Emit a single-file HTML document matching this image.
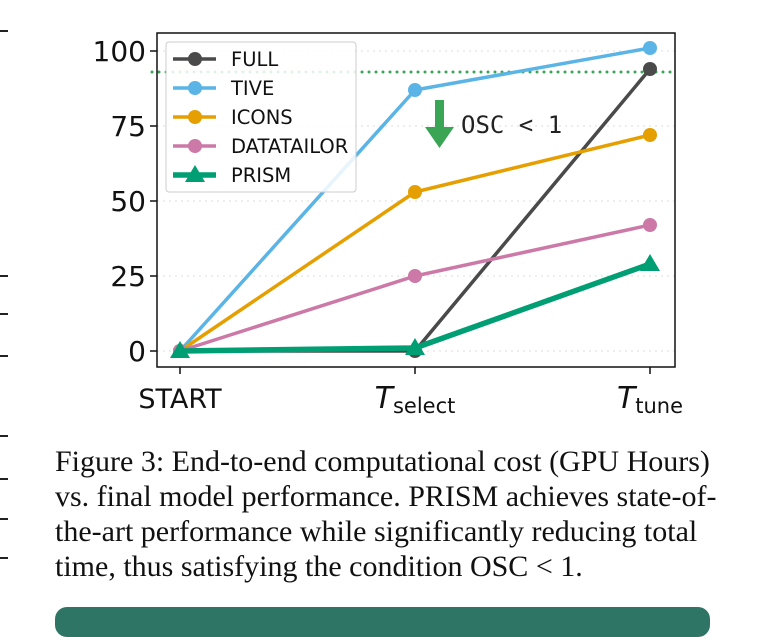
<!DOCTYPE html>
<html><head><meta charset="utf-8"><style>
body{margin:0;width:773px;height:619px;background:#fff;overflow:hidden;position:relative;font-family:"DejaVu Sans",sans-serif}
.cap{position:absolute;left:55px;top:444px;width:700px;font-family:"Liberation Serif",serif;font-size:30px;line-height:35px;color:#111;letter-spacing:0px}
.cap span{display:block;white-space:nowrap}
.box{position:absolute;left:55px;top:607px;width:655px;height:30px;background:#2e7566;border-radius:12px}
.dash{position:absolute;left:0;width:8px;height:2px;background:#222}
</style></head><body>
<div>
<div class="dash" style="top:30px"></div><div class="dash" style="top:275px"></div><div class="dash" style="top:313px"></div><div class="dash" style="top:355px"></div><div class="dash" style="top:435px"></div><div class="dash" style="top:478px"></div><div class="dash" style="top:518px"></div><div class="dash" style="top:557px"></div>
</div>
<svg id="chart" width="773" height="440" style="position:absolute;left:0;top:0" font-family="DejaVu Sans, sans-serif"></svg>
<div class="cap"><span>Figure 3: End-to-end computational cost (GPU Hours)</span><span>vs. final model performance. PRISM achieves state-of-</span><span>the-art performance while significantly reducing total</span><span>time, thus satisfying the condition OSC &lt; 1.</span></div>
<div class="box"></div>
<script>
const categories=["START","T_select","T_tune"];
const yTicks=[0,25,50,75,100];
const full=[0,0,94];
const tive=[0,87,101];
const icons=[0,53,72];
const datatailor=[0,25,42];
const prism=[0,1,29];
const threshold=93;
const NS="http://www.w3.org/2000/svg";
const svg=document.getElementById('chart');
const L=157,R=675,T=33,B=367;
const xs=[180,416,650];
function xScale(i){return xs[0]+(xs[2]-xs[0])*i/(categories.length-1);}
function yScale(v){return 351-v*3;}
function mk(tag,attrs,parent){const e=document.createElementNS(NS,tag);for(const k in attrs)e.setAttribute(k,attrs[k]);(parent||svg).appendChild(e);return e;}
yTicks.forEach(v=>{
 const g=mk('line',{x1:L,x2:R,y1:yScale(v),y2:yScale(v),stroke:'#ddd','stroke-dasharray':'2,4','stroke-width':1});
 
 
 const t=mk('line',{x1:L-7,x2:L,y1:yScale(v),y2:yScale(v),stroke:'#111','stroke-width':1.5});
 
 
 const tx=mk('text',{x:L-11,y:yScale(v)+10,'text-anchor':'end','font-size':28,fill:'#111'});
 tx.textContent=v;
 
 
});
const th=mk('line',{x1:152,x2:R+2,y1:yScale(threshold),y2:yScale(threshold),stroke:'#3aa655','stroke-width':3,'stroke-dasharray':'0,7','stroke-linecap':'round'});


categories.forEach((c,i)=>{
 const x=xScale(i);
 const t=mk('line',{x1:x,x2:x,y1:B,y2:B+7,stroke:'#111','stroke-width':1.5});
 
 
 const tx=mk('text',{x:x,y:408,'text-anchor':'middle','font-size':27,fill:'#111'});
 if(c.startsWith('T_')){
  const a=mk('tspan',{'font-style':'italic','font-size':30},tx);a.textContent='T';
  const b=mk('tspan',{'font-size':21,dy:5},tx);b.textContent=c.slice(2);
 } else tx.textContent=c;
 
 
});
const series=[
 {name:'full',data:full,color:'#4a4a4a',w:3.5,m:'c'},
 {name:'tive',data:tive,color:'#5ab4e5',w:3.5,m:'c'},
 {name:'icons',data:icons,color:'#e69f00',w:3.5,m:'c'},
 {name:'datatailor',data:datatailor,color:'#cc79a7',w:3.5,m:'c'},
 {name:'prism',data:prism,color:'#009e73',w:5.5,m:'t'}
];
function marker(s,x,y,g){
 if(s.m==='c') return mk('circle',{cx:x,cy:y,r:7,fill:s.color},g);
 return mk('polygon',{points:`${x},${y-10} ${x-10},${y+7} ${x+10},${y+7}`,fill:s.color},g);
}
series.forEach(s=>{
 const g=mk('g',{});
 
 
 const pl=mk('polyline',{points:s.data.map((v,i)=>xScale(i)+','+yScale(v)).join(' '),fill:'none',stroke:s.color,'stroke-width':s.w,'stroke-linejoin':'round'},g);
 
 
 s.data.forEach((v,i)=>{const p=marker(s,xScale(i),yScale(v),g);
  
  });
});
const ar=mk('g',{});


mk('rect',{x:435,y:100,width:9,height:30,fill:'#3aa655'},ar);
mk('polygon',{points:'425,127 454,127 439.5,148',fill:'#3aa655'},ar);
const at=mk('text',{x:461,y:133,'font-size':24,fill:'#222','font-family':'DejaVu Sans Mono, monospace'},ar);
at.textContent='OSC < 1';
const fr=mk('rect',{x:L,y:T,width:R-L,height:B-T,fill:'none',stroke:'#111','stroke-width':1.5});


const lg=mk('g',{});


mk('rect',{x:166,y:42,width:190,height:150,rx:3,fill:'rgba(255,255,255,0.85)',stroke:'#ccc','stroke-width':1},lg);
const labels=['FULL','TIVE','ICONS','DATATAILOR','PRISM'];
series.forEach((s,i)=>{
 const y=59+i*29;
 const e=mk('g',{},lg);
 
 
 mk('line',{x1:173,x2:216,y1:y,y2:y,stroke:s.color,'stroke-width':s.w},e);
 marker(s,195,y,e);
 const t=mk('text',{x:231,y:y+7,'font-size':19.5,fill:'#111'},e);
 t.textContent=labels[i];
});
</script>
</body></html>
